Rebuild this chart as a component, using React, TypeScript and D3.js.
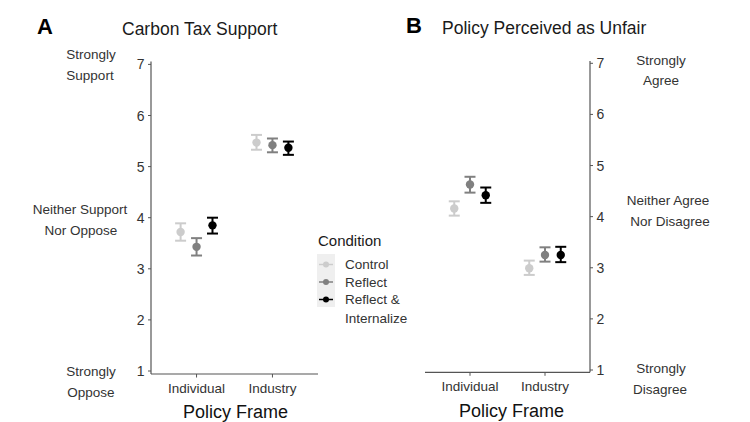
import React from "react";
import * as d3 from "d3";

// Conditions and frames
const conditions = ["Control", "Reflect", "Reflect & Internalize"];
const frames = ["Individual", "Industry"];
const condColors = ["#cccccc", "#808080", "#000000"];

// Carbon tax support: mean, lower CI, upper CI per frame (rows) and condition (cols)
const supportMean = [
  [3.72, 3.43, 3.85],
  [5.47, 5.42, 5.37],
];
const supportLo = [
  [3.55, 3.26, 3.69],
  [5.33, 5.28, 5.23],
];
const supportHi = [
  [3.89, 3.6, 4.0],
  [5.62, 5.55, 5.49],
];

// Policy perceived as unfair
const unfairMean = [
  [4.16, 4.63, 4.42],
  [2.99, 3.25, 3.25],
];
const unfairLo = [
  [4.02, 4.47, 4.27],
  [2.86, 3.12, 3.11],
];
const unfairHi = [
  [4.3, 4.78, 4.57],
  [3.14, 3.4, 3.41],
];

const yTicks = [1, 2, 3, 4, 5, 6, 7];
const dodge = [-0.21, 0, 0.21];

const FONT = "'Liberation Sans', Arial, sans-serif";

type PanelProps = {
  x0: number;
  x1: number;
  yTop: number;
  yBottom: number;
  axisY: number;
  axisTop: number;
  side: "left" | "right";
  mean: number[][];
  lo: number[][];
  hi: number[][];
};

function Panel({ x0, x1, yTop, yBottom, axisY, axisTop, side, mean, lo, hi }: PanelProps) {
  const x = d3.scaleLinear().domain([0.4, 2.6]).range([x0, x1]);
  const y = d3.scaleLinear().domain([1, 7]).range([yBottom, yTop]);
  const axisX = side === "left" ? x0 : x1;
  const tickDir = side === "left" ? -1 : 1;
  const cap = 5.5;
  return (
    <g>
      {/* axes */}
      <line x1={axisX} x2={axisX} y1={axisTop} y2={axisY} stroke="#555" strokeWidth={1.2} />
      <line x1={x0} x2={x1} y1={axisY} y2={axisY} stroke="#555" strokeWidth={1.2} />
      {yTicks.map((t) => (
        <g key={t}>
          <line x1={axisX} x2={axisX + tickDir * 3} y1={y(t)} y2={y(t)} stroke="#555" strokeWidth={1} />
          <text
            x={axisX + tickDir * 6.5}
            y={y(t)}
            dy="0.36em"
            textAnchor={side === "left" ? "end" : "start"}
            fontSize={14}
            fill="#333"
          >
            {t}
          </text>
        </g>
      ))}
      {frames.map((f, i) => (
        <g key={f}>
          <line x1={x(i + 1)} x2={x(i + 1)} y1={axisY} y2={axisY + 3.5} stroke="#555" strokeWidth={1} />
          <text x={x(i + 1)} y={axisY + 14} dy="0.36em" textAnchor="middle" fontSize={13.5} fill="#333">
            {f}
          </text>
        </g>
      ))}
      {/* error bars and means */}
      {frames.map((f, i) =>
        conditions.map((c, j) => {
          const cx = x(i + 1 + dodge[j]);
          const col = condColors[j];
          return (
            <g key={f + c}>
              <line x1={cx} x2={cx} y1={y(lo[i][j])} y2={y(hi[i][j])} stroke={col} strokeWidth={2} />
              <line x1={cx - cap} x2={cx + cap} y1={y(lo[i][j])} y2={y(lo[i][j])} stroke={col} strokeWidth={2} />
              <line x1={cx - cap} x2={cx + cap} y1={y(hi[i][j])} y2={y(hi[i][j])} stroke={col} strokeWidth={2} />
              <circle cx={cx} cy={y(mean[i][j])} r={4.2} fill={col} />
            </g>
          );
        })
      )}
      <text x={(x0 + x1) / 2 + (side === "left" ? 1 : 4)} y={axisY + 38} dy="0.36em" textAnchor="middle" fontSize={18} fill="#111">
        Policy Frame
      </text>
    </g>
  );
}

export default function App() {
  const W = 750;
  const H = 422;
  return (
    <svg width={W} height={H} style={{ position: "absolute", left: 0, top: 0, background: "#fff" }} fontFamily={FONT}>
      <rect width={W} height={H} fill="#fff" />
      {/* Panel A */}
      <text x={37} y={34} fontSize={22} fontWeight="bold" fill="#000">A</text>
      <text x={122} y={35} fontSize={17.5} fill="#1a1a1a">Carbon Tax Support</text>
      <g fontSize={13.5} fill="#333" textAnchor="middle">
        <text x={91} y={54} dy="0.36em">Strongly</text>
        <text x={90} y={75} dy="0.36em">Support</text>
        <text x={80} y={209} dy="0.36em">Neither Support</text>
        <text x={81} y={230} dy="0.36em">Nor Oppose</text>
        <text x={91} y={371} dy="0.36em">Strongly</text>
        <text x={91} y={392} dy="0.36em">Oppose</text>
      </g>
      <Panel
        x0={151}
        x1={318}
        yTop={64.4}
        yBottom={371}
        axisY={374}
        axisTop={61.5}
        side="left"
        mean={supportMean}
        lo={supportLo}
        hi={supportHi}
      />

      {/* Legend */}
      <text x={318} y={241} dy="0.36em" fontSize={15} fill="#1a1a1a">Condition</text>
      <rect x={317} y={254} width={18} height={53} fill="#efefef" />
      {conditions.map((c, j) => {
        const cy = 264.5 + j * 17.5;
        return (
          <g key={c}>
            <line x1={319} x2={333} y1={cy} y2={cy} stroke={condColors[j]} strokeWidth={1.5} />
            <circle cx={326} cy={cy} r={3} fill={condColors[j]} />
          </g>
        );
      })}
      <g fontSize={13.5} fill="#333">
        <text x={345} y={264.5} dy="0.36em">Control</text>
        <text x={345} y={282} dy="0.36em">Reflect</text>
        <text x={345} y={299.5} dy="0.36em">Reflect &amp;</text>
        <text x={345} y={318} dy="0.36em">Internalize</text>
      </g>

      {/* Panel B */}
      <text x={406} y={33} fontSize={22} fontWeight="bold" fill="#000">B</text>
      <text x={442} y={34} fontSize={17.5} fill="#1a1a1a">Policy Perceived as Unfair</text>
      <g fontSize={13.5} fill="#333" textAnchor="middle">
        <text x={661} y={60} dy="0.36em">Strongly</text>
        <text x={661} y={80.5} dy="0.36em">Agree</text>
        <text x={668} y={200.5} dy="0.36em">Neither Agree</text>
        <text x={670} y={221} dy="0.36em">Nor Disagree</text>
        <text x={661} y={368} dy="0.36em">Strongly</text>
        <text x={660} y={389} dy="0.36em">Disagree</text>
      </g>
      <Panel
        x0={425}
        x1={590}
        yTop={63.3}
        yBottom={370}
        axisY={372.3}
        axisTop={61}
        side="right"
        mean={unfairMean}
        lo={unfairLo}
        hi={unfairHi}
      />
    </svg>
  );
}
